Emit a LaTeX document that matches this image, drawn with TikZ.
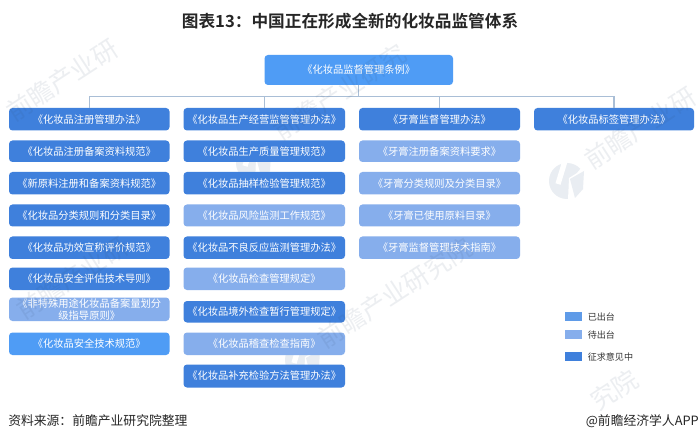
\documentclass[tikz,border=0pt]{standalone}
\usepackage{fontspec}
\setmainfont{Noto Sans CJK SC}
\newfontfamily\boldcjk{Noto Sans CJK SC Bold}
\definecolor{cdark}{HTML}{3F80DC}
\definecolor{clight}{HTML}{86AEEC}
\definecolor{cbright}{HTML}{4F9CF5}
\definecolor{cmid}{HTML}{5F9BE8}
\definecolor{cline}{HTML}{A9BED6}
\definecolor{cwm}{HTML}{304A6A}
\definecolor{clogo}{HTML}{E9EDF2}
\tikzset{
 x=0.75pt,y=-0.75pt,
 pbox/.style={rounded corners=2.6pt,text=white,font=\fontsize{7.7}{9}\selectfont,align=center,inner sep=0pt,anchor=center},
 darkbox/.style={pbox,fill=cdark},
 lightbox/.style={pbox,fill=clight},
 brightbox/.style={pbox,fill=cbright},
 link/.style={draw=cline,line width=1pt},
 legendswatch/.style={minimum width=12.5pt,minimum height=7pt,inner sep=0pt},
 legendtext/.style={font=\fontsize{6.8}{8}\selectfont,text=black!80,anchor=west,inner sep=0pt},
 wm/.style={text=cwm,text opacity=0.09,rotate=33,font=\fontsize{19}{22}\selectfont,inner sep=0pt},
}
\newcommand{\bx}[8]{% name style x1 y1 x2 y2 text
 \node[#2,minimum width=#5*0.75pt-#3*0.75pt,minimum height=#6*0.75pt-#4*0.75pt] (#1) at ({(#3+#5)/2},{(#4+#6)/2}) {#7};}
\newcommand{\wmlogo}[2]{%
 \fill[clogo] (#1,#2) circle (13.5pt);
 \draw[white,line width=4pt] (#1-2,#2-20) -- (#1-9,#2+3);
 \fill[white] (#1+2,#2-3) -- (#1+10,#2-8) -- (#1+19,#2-19) -- (#1+19,#2+19) -- (#1+8,#2+19) -- (#1+1,#2+19) -- cycle;
 \fill[clogo] (#1+3,#2-2) -- (#1+17,#2-10) -- (#1+16,#2+8) -- (#1+8,#2+17) -- cycle;
}
\begin{document}
\begin{tikzpicture}
\useasboundingbox (0,0) rectangle (700,442);
\fill[white] (0,0) rectangle (700,442);
% watermark logos (behind the boxes)
\wmlogo{567}{181}
\wmlogo{254}{163}
\wmlogo{303}{360}
% title
\node[font=\boldcjk\fontsize{12.5}{15}\selectfont,text=black!85,inner sep=0pt] (title) at (350,21) {图表13：中国正在形成全新的化妆品监管体系};
% boxes
\bx{top}{brightbox}{264.5}{55}{453}{85}{《化妆品监督管理条例》}{}
\bx{a1}{darkbox}{9}{108}{169.5}{130.5}{《化妆品注册管理办法》}{}
\bx{a2}{darkbox}{9}{140.5}{169.5}{162}{《化妆品注册备案资料规范》}{}
\bx{a3}{darkbox}{9}{172}{169.5}{194.5}{《新原料注册和备案资料规范》}{}
\bx{a4}{darkbox}{9}{204.5}{169.5}{226.5}{《化妆品分类规则和分类目录》}{}
\bx{a5}{darkbox}{9}{236.5}{169.5}{259}{《化妆品功效宣称评价规范》}{}
\bx{a6}{darkbox}{9}{267.5}{169.5}{290}{《化妆品安全评估技术导则》}{}
\bx{a7}{lightbox}{9}{297.5}{169.5}{321}{《非特殊用途化妆品备案量划分\\级指导原则》}{}
\bx{a8}{brightbox}{9}{332.5}{169.5}{355}{《化妆品安全技术规范》}{}
\bx{b1}{darkbox}{183.5}{108}{345}{130.5}{《化妆品生产经营监管管理办法》}{}
\bx{b2}{darkbox}{183.5}{140.5}{345}{162}{《化妆品生产质量管理规范》}{}
\bx{b3}{darkbox}{183.5}{172}{345}{194.5}{《化妆品抽样检验管理规范》}{}
\bx{b4}{lightbox}{183.5}{204.5}{345}{226.5}{《化妆品风险监测工作规范》}{}
\bx{b5}{darkbox}{183.5}{236.5}{345}{259}{《化妆品不良反应监测管理办法》}{}
\bx{b6}{lightbox}{183.5}{267.5}{345}{290}{《化妆品检查管理规定》}{}
\bx{b7}{darkbox}{183.5}{301}{345}{322.5}{《化妆品境外检查暂行管理规定》}{}
\bx{b8}{lightbox}{183.5}{332.5}{345}{355}{《化妆品稽查检查指南》}{}
\bx{b9}{darkbox}{183.5}{364.5}{345}{387.5}{《化妆品补充检验方法管理办法》}{}
\bx{c1}{darkbox}{359}{108}{520}{130.5}{《牙膏监督管理办法》}{}
\bx{c2}{lightbox}{359}{140.5}{520}{162}{《牙膏注册备案资料要求》}{}
\bx{c3}{lightbox}{359}{172}{520}{194.5}{《牙膏分类规则及分类目录》}{}
\bx{c4}{lightbox}{359}{204.5}{520}{226.5}{《牙膏已使用原料目录》}{}
\bx{c5}{lightbox}{359}{236.5}{520}{259}{《牙膏监督管理技术指南》}{}
\bx{d1}{darkbox}{534}{108}{694}{130.5}{《化妆品标签管理办法》}{}
% connectors
\coordinate (bus) at (top.south |- 0,96.5);
\draw[link] (top.south) -- (bus);
\draw[link] (a1.north) |- (bus);
\draw[link] (b1.north) |- (bus);
\draw[link] (c1.north) |- (bus);
\draw[link] (d1.north) |- (bus);
% legend
\node[legendswatch,fill=cmid] (l1) at (573.5,316.5) {};
\node[legendtext] (l1t) at (587.5,317) {已出台};
\node[legendswatch,fill=clight] (l2) at (573.5,334.5) {};
\node[legendtext] (l2t) at (587.5,335) {待出台};
\node[legendswatch,fill=cdark] (l3) at (573.5,356.5) {};
\node[legendtext] (l3t) at (587.5,357) {征求意见中};
% footer
\node[font=\fontsize{9.6}{12}\selectfont,text=black!85,anchor=west,inner sep=0pt] (src) at (8,421) {资料来源：前瞻产业研究院整理};
\node[font=\fontsize{9.6}{12}\selectfont,text=black!85,anchor=east,inner sep=0pt] (app) at (699,421.5) {@前瞻经济学人APP};
% watermarks
\node[wm] (w1) at (62,80) {前瞻产业研};
\node[wm] (w2) at (340,92) {前瞻产业研究};
\node[wm] (w3) at (640,128) {前瞻产业研};
\node[wm] (w4) at (395,293) {前瞻产业研究院};
\node[wm] (w5) at (72,278) {前瞻产业研};
\node[wm] (w6) at (614,390) {究院};
\end{tikzpicture}
\end{document}
